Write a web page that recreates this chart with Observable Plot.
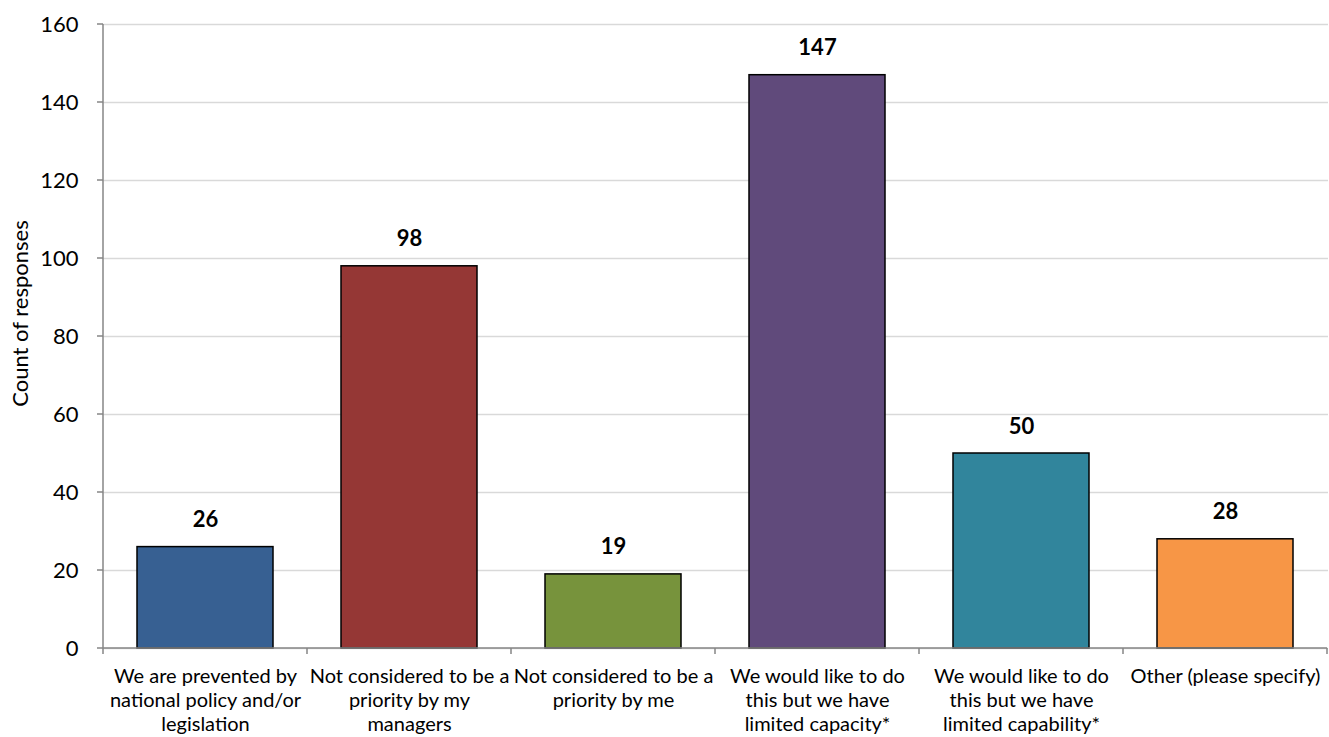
<!DOCTYPE html>
<html><head><meta charset="utf-8">
<script src="https://cdn.jsdelivr.net/npm/d3@7"></script>
<script src="https://cdn.jsdelivr.net/npm/@observablehq/plot@0.6"></script>
<style>
html,body{margin:0;padding:0;background:#fff;}
#chart svg{display:block;}
</style>
</head><body><div id="chart"></div>
<script>
const categories = [
  "We are prevented by national policy and/or legislation",
  "Not considered to be a priority by my managers",
  "Not considered to be a priority by me",
  "We would like to do this but we have limited capacity*",
  "We would like to do this but we have limited capability*",
  "Other (please specify)"
];
const tickLabels = [
  "We are prevented by\nnational policy and/or\nlegislation",
  "Not considered to be a\npriority by my\nmanagers",
  "Not considered to be a\npriority by me",
  "We would like to do\nthis but we have\nlimited capacity*",
  "We would like to do\nthis but we have\nlimited capability*",
  "Other (please specify)"
];
const counts = [26, 98, 19, 147, 50, 28];
const barColors = ["#376092", "#953735", "#77933C", "#604A7B", "#31859C", "#F79646"];
const yTicks = [0, 20, 40, 60, 80, 100, 120, 140, 160];
const yLabel = "Count of responses";

const data = categories.map((c, i) => ({category: c, count: counts[i]}));
const FONT = "Lato, 'Open Sans', sans-serif";

// Axis lines and category boundary ticks, positioned through Plot's scales
function axisLines(index, scales, values, dims) {
  const x = scales.x, y = scales.y;
  const step = x(categories[1]) - x(categories[0]);
  const bw = x.bandwidth();
  const g = d3.create("svg:g").attr("stroke", "#868686").attr("stroke-width", 1.5).attr("fill", "none");
  const y0 = y(yTicks[0]);
  const left = x(categories[0]) - (step - bw) / 2;
  g.append("line").attr("x1", left).attr("x2", left).attr("y1", y(yTicks[yTicks.length - 1])).attr("y2", y0);
  for (const t of yTicks) {
    g.append("line").attr("x1", left - 6).attr("x2", left).attr("y1", y(t)).attr("y2", y(t));
  }
  const xs = categories.map(c => x(c) - (step - bw) / 2);
  xs.push(xs[xs.length - 1] + step);
  g.append("line").attr("x1", xs[0]).attr("x2", xs[xs.length - 1]).attr("y1", y0).attr("y2", y0);
  for (const bx of xs) {
    g.append("line").attr("x1", bx).attr("x2", bx).attr("y1", y0).attr("y2", y0 + 6);
  }
  return g.node();
}

const chart = Plot.plot({
  width: 1329,
  height: 737,
  marginLeft: 102,
  marginRight: 1,
  marginTop: 24,
  marginBottom: 89,
  style: {fontFamily: FONT, color: "#000", background: "#fff"},
  x: {domain: categories, paddingInner: 1/3, paddingOuter: 1/6, label: null},
  y: {domain: [0, 160], label: null},
  color: {domain: categories, range: barColors},
  marks: [
    Plot.gridY(yTicks, {stroke: "#d9d9d9", strokeOpacity: 1, strokeWidth: 1.3}),
    Plot.barY(data, {x: "category", y: "count", fill: "category", stroke: "#000", strokeWidth: 1.5}),
    Plot.text(data, {x: "category", y: "count", text: d => String(d.count), dy: -27, fontWeight: "bold", fontSize: 22, fill: "#000"}),
    axisLines,
    Plot.axisY({ticks: yTicks, tickSize: 0, tickPadding: 24, fontSize: 22, label: null}),
    Plot.axisX({tickSize: 0, tickPadding: 17, fontSize: 20, lineHeight: 1.2, lineAnchor: "top", tickFormat: d => tickLabels[categories.indexOf(d)], label: null}),
    Plot.text([yLabel], {frameAnchor: "left", textAnchor: "middle", rotate: -90, dx: -82, dy: -23, fontSize: 22, text: d => d, fill: "#000"})
  ]
});
document.getElementById("chart").appendChild(chart);
</script>
</body></html>
